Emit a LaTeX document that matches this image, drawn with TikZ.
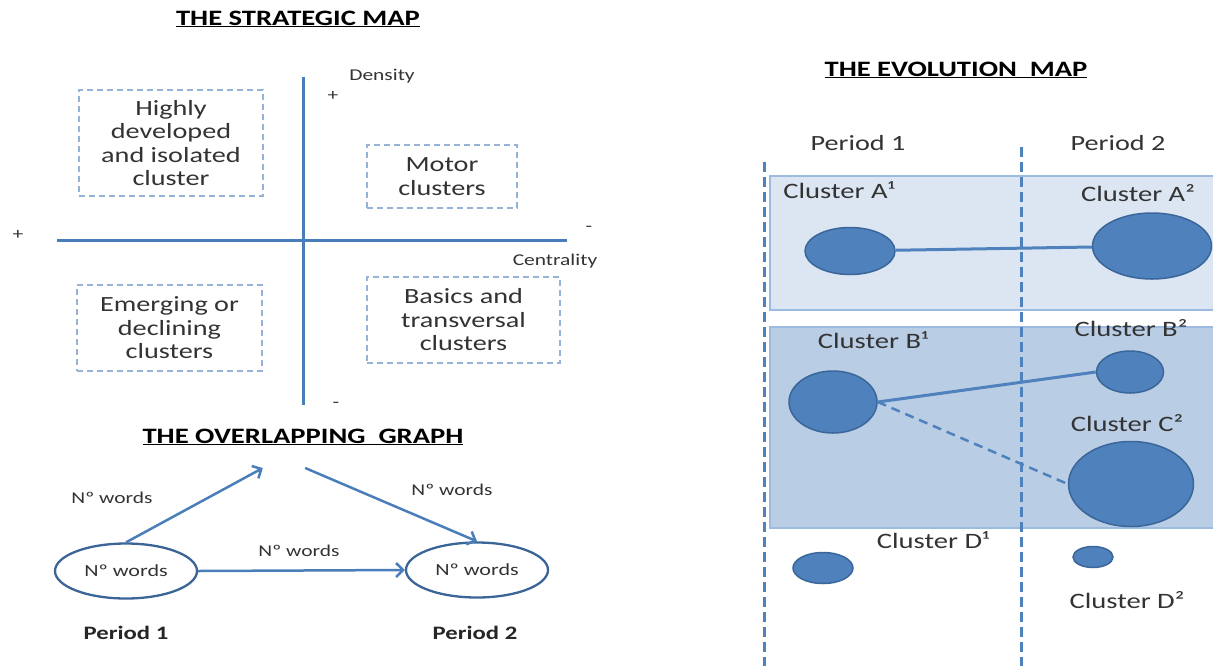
\documentclass[tikz,border=0pt]{standalone}
\usepackage{fontspec}
\setmainfont{Carlito}[FakeStretch=1.3]
\usetikzlibrary{positioning, shapes.geometric, arrows.meta}

\definecolor{axisblue}{HTML}{4A7EBB}
\definecolor{boxblue}{HTML}{95B3D7}
\definecolor{clusterblue}{HTML}{4F81BD}
\definecolor{clusterdark}{HTML}{3A6699}
\definecolor{bandlight}{HTML}{DCE6F2}
\definecolor{bandmid}{HTML}{B9CDE5}
\definecolor{bandedge}{HTML}{9DBBE0}
\definecolor{textgray}{HTML}{333333}

\tikzset{
    maptitle/.style = {font=\fontsize{22}{24}\selectfont\bfseries, text=black},
    quadrant/.style = {draw=boxblue, line width=1.3pt,
                       dash pattern=on 6pt off 4pt, align=center,
                       font=\fontsize{21.7}{23.5}\selectfont},
    smalllabel/.style = {font=\fontsize{16.5}{18}\selectfont},
    wordsnode/.style = {ellipse, draw=axisblue!80!black, line width=2.3pt,
                        minimum width=142pt, minimum height=55pt,
                        font=\fontsize{17}{19}\selectfont},
    flow/.style = {draw=axisblue, line width=2.5pt,
                   -{Straight Barb[length=7pt, width=14pt, line width=2.5pt]}},
    periodlabel/.style = {font=\fontsize{21.7}{23}\selectfont},
    boldperiod/.style = {font=\fontsize{19}{22}\selectfont\bfseries, text=black!85},
    cluster/.style = {ellipse, fill=clusterblue, draw=clusterdark,
                      line width=1.5pt, inner sep=0pt},
    clusterlabel/.style = {font=\fontsize{22}{24}\selectfont},
    link/.style = {draw=clusterblue, line width=3pt},
    timeline/.style = {draw=clusterblue, line width=3pt,
                       dash pattern=on 10pt off 5pt}
}

\begin{document}
\begin{tikzpicture} [x=1pt, y=-1pt,
            text=textgray]

        \useasboundingbox (0,0) rectangle (1213,665);

        % ---------- The strategic map ----------
        \node (smaptitle) [maptitle] at (298,19) {\underline{THE STRATEGIC  MAP}};

        % Axes
        \coordinate (dtop) at (303,77);
        \coordinate (dbot) at (303,405);
        \coordinate (cleft) at (57,240);
        \coordinate (cright) at (567,240);
        \draw [draw=axisblue, line width=3pt] (dtop) -- (dbot);
        \draw [draw=axisblue, line width=3pt] (cleft) -- (cright);

        % Axis labels
        \node (density) [smalllabel] at (382,76) {Density};
        \node (dplus) [smalllabel] at (333,96) {+};
        \node (dminus) [smalllabel] at (336,405) {-};
        \node (cplus) [smalllabel] at (18,235) {+};
        \node (cminus) [smalllabel] at (589,229) {-};
        \node (centrality) [smalllabel] at (555,261) {Centrality};

        % Quadrants
        \node (isolated) [quadrant,
            minimum width=184pt, minimum height=106pt] at (171,143)
            {Highly\\developed\\and isolated\\cluster};
        \node (motor) [quadrant,
            minimum width=150pt, minimum height=63pt] at (442,176.5)
            {Motor\\clusters};
        \node (emerging) [quadrant,
            minimum width=185pt, minimum height=86pt] at (169.5,328)
            {Emerging or\\declining\\clusters};
        \node (basics) [quadrant,
            minimum width=193pt, minimum height=86pt] at (463.5,320)
            {Basics and\\transversal\\clusters};

        % ---------- The overlapping graph ----------
        \node (ogtitle) [maptitle] at (303,437) {\underline{THE OVERLAPPING\ \ GRAPH}};

        % Periods
        \node (p1) [wordsnode] at (126,571) {Nº words};
        \node (p2) [wordsnode] at (477,570) {Nº words};
        \node (apex) [minimum width=42pt, inner sep=0pt] at (284,468) {};

        % Arrows
        \path
            (p1.north) edge [flow] (apex.west)
            (apex.east) edge [flow] (p2.north)
            (p1.east) edge [flow] (p2.west);

        % Arrow labels
        \node (w1) [smalllabel] at (112,498) {Nº words};
        \node (w2) [smalllabel] at (452,490) {Nº words};
        \node (w3) [smalllabel] at (299,551) {Nº words};

        \node (per1) [boldperiod] at (126,633) {Period 1};
        \node (per2) [boldperiod] at (475,633) {Period 2};

        % ---------- The evolution map ----------
        \node (emaptitle) [maptitle] at (956,70) {\underline{THE EVOLUTION\ \ MAP}};

        % Bands
        \fill [bandlight] (770,176) rectangle (1216,310);
        \draw [bandedge, line width=1.5pt] (1216,176) -- (770,176) -- (770,310) -- (1216,310);
        \fill [bandmid] (770,327) rectangle (1216,528);
        \draw [bandedge, line width=1.5pt] (1216,327) -- (770,327) -- (770,528) -- (1216,528);

        % Time lines
        \coordinate (t1top) at (764,162);
        \coordinate (t1bot) at (764,668);
        \coordinate (t2top) at (1021,147);
        \coordinate (t2bot) at (1021,668);
        \draw [timeline] (t1top) -- (t1bot);
        \draw [timeline] (t2top) -- (t2bot);

        \node (ep1) [periodlabel] at (858,143) {Period 1};
        \node (ep2) [periodlabel] at (1118,143) {Period 2};

        % Clusters of period 1
        \node (a1) [cluster, minimum width=90pt, minimum height=47pt] at (850,251) {};
        \node (b1) [cluster, minimum width=88pt, minimum height=62pt] at (833,402) {};
        \node (d1) [cluster, minimum width=60pt, minimum height=31pt] at (823,568) {};

        % Clusters of period 2
        \node (a2) [cluster, minimum width=119pt, minimum height=66pt] at (1152,246) {};
        \node (b2) [cluster, minimum width=67pt, minimum height=42pt] at (1130,372) {};
        \node (c2) [cluster, minimum width=125pt, minimum height=85pt] at (1131,484) {};
        \node (d2) [cluster, minimum width=40pt, minimum height=21pt] at (1093,557) {};

        % Cluster names
        \node (la1) [clusterlabel] at (839,190) {Cluster A¹};
        \node (la2) [clusterlabel] at (1138,193) {Cluster A²};
        \node (lb1) [clusterlabel] at (873,340) {Cluster B¹};
        \node (lb2) [clusterlabel] at (1131,328) {Cluster B²};
        \node (lc2) [clusterlabel] at (1127,423) {Cluster C²};
        \node (ld1) [clusterlabel] at (933,540) {Cluster D¹};
        \node (ld2) [clusterlabel] at (1127,600) {Cluster D²};

        % Links
        \path
            (a1) edge [link] (a2)
            (b1.east) edge [link] (b2.west)
            (b1.east) edge [link, line width=2.5pt, dash pattern=on 9pt off 6pt] (c2.west);
\end{tikzpicture}
\end{document}
